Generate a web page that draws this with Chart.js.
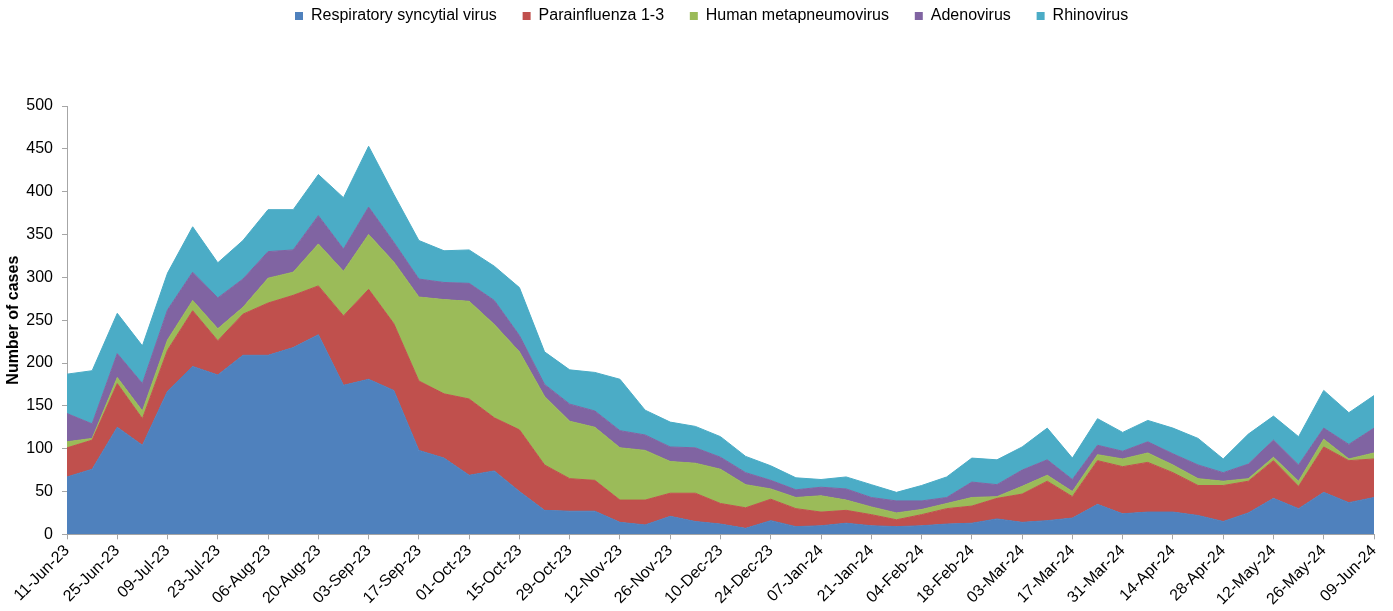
<!DOCTYPE html>
<html>
<head>
<meta charset="utf-8">
<script src="https://cdn.jsdelivr.net/npm/chart.js@4"></script>
<style>
  body { margin: 0; background: #fff; }
  #wrap { width: 1393px; height: 611px; }
</style>
</head>
<body>
<div id="wrap"><canvas id="virusChart" width="1393" height="611"></canvas></div>
<script>
const weeks = [
  '11-Jun-23', '18-Jun-23', '25-Jun-23', '02-Jul-23', '09-Jul-23', '16-Jul-23', '23-Jul-23', '30-Jul-23',
  '06-Aug-23', '13-Aug-23', '20-Aug-23', '27-Aug-23', '03-Sep-23', '10-Sep-23', '17-Sep-23', '24-Sep-23',
  '01-Oct-23', '08-Oct-23', '15-Oct-23', '22-Oct-23', '29-Oct-23', '05-Nov-23', '12-Nov-23', '19-Nov-23',
  '26-Nov-23', '03-Dec-23', '10-Dec-23', '17-Dec-23', '24-Dec-23', '31-Dec-23', '07-Jan-24', '14-Jan-24',
  '21-Jan-24', '28-Jan-24', '04-Feb-24', '11-Feb-24', '18-Feb-24', '25-Feb-24', '03-Mar-24', '10-Mar-24',
  '17-Mar-24', '24-Mar-24', '31-Mar-24', '07-Apr-24', '14-Apr-24', '21-Apr-24', '28-Apr-24', '05-May-24',
  '12-May-24', '19-May-24', '26-May-24', '02-Jun-24', '09-Jun-24'
];

const rsv = [67, 76, 125, 104, 167, 196, 186, 209, 209, 218, 233, 174, 181, 168, 98, 89, 69, 74, 50, 28,
  27, 27, 14, 11, 21, 15, 12, 7, 16, 9, 10, 13, 10, 9, 10, 12, 13, 18, 14, 16,
  19, 35, 24, 26, 26, 22, 15, 25, 42, 30, 49, 37, 43];
const parainfluenza = [34, 34, 51, 31, 48, 65, 40, 48, 61, 61, 57, 81, 105, 78, 81, 75, 89, 62, 72, 53,
  38, 36, 26, 29, 27, 33, 24, 24, 25, 21, 16, 15, 13, 8, 13, 18, 20, 24, 33, 46,
  25, 51, 55, 58, 46, 35, 42, 37, 44, 26, 53, 49, 45];
const metapneumo = [7, 2, 7, 9, 12, 12, 14, 8, 29, 27, 49, 52, 64, 72, 98, 110, 114, 109, 91, 80,
  67, 62, 61, 58, 37, 35, 40, 27, 12, 13, 19, 12, 9, 8, 6, 6, 10, 2, 9, 7,
  6, 7, 9, 11, 9, 8, 5, 3, 4, 6, 9, 2, 7];
const adeno = [33, 17, 28, 32, 35, 33, 36, 33, 31, 26, 33, 26, 32, 23, 21, 20, 21, 28, 19, 14,
  20, 19, 20, 18, 17, 18, 14, 14, 10, 9, 10, 13, 11, 14, 10, 7, 18, 14, 19, 18,
  14, 11, 9, 13, 13, 16, 10, 17, 20, 19, 13, 17, 29];
const rhino = [46, 62, 47, 44, 43, 53, 41, 45, 49, 47, 48, 60, 71, 56, 45, 37, 39, 40, 56, 38,
  40, 45, 60, 29, 29, 25, 24, 19, 17, 14, 9, 14, 15, 10, 18, 24, 28, 29, 27, 37,
  25, 31, 22, 25, 30, 31, 16, 35, 28, 33, 44, 37, 38];

const seriesNames = ['Respiratory syncytial virus', 'Parainfluenza 1-3', 'Human metapneumovirus', 'Adenovirus', 'Rhinovirus'];
const seriesColors = ['#4F81BD', '#C0504D', '#9BBB59', '#8064A2', '#4BACC6'];
const seriesData = [rsv, parainfluenza, metapneumo, adeno, rhino];

Chart.defaults.font.family = '"Liberation Sans", Arial, sans-serif';
Chart.defaults.font.size = 16;
Chart.defaults.color = '#000';

// push the plot down below the legend
const legendGap = {
  id: 'legendGap',
  beforeInit(chart) {
    const fit = chart.legend.fit;
    chart.legend.fit = function () {
      fit.bind(chart.legend)();
      this.height += 72;
    };
  }
};

const ctx = document.getElementById('virusChart').getContext('2d');
new Chart(ctx, {
  type: 'line',
  data: {
    labels: weeks,
    datasets: seriesNames.map((name, i) => ({
      label: name,
      data: seriesData[i],
      backgroundColor: seriesColors[i],
      borderColor: seriesColors[i],
      borderWidth: 1,
      pointRadius: 0,
      tension: 0,
      fill: i === 0 ? 'origin' : '-1'
    }))
  },
  options: {
    responsive: false,
    animation: false,
    layout: { padding: { right: 19, top: 0, bottom: 0 } },
    plugins: {
      tooltip: { enabled: false },
      legend: {
        position: 'top',
        fullSize: false,
        labels: {
          boxWidth: 8,
          boxHeight: 8,
          padding: 8,
          font: { size: 16 },
          generateLabels(chart) {
            return chart.data.datasets.map((ds, i) => ({
              text: ds.label + '    ',
              fillStyle: ds.backgroundColor,
              strokeStyle: ds.backgroundColor,
              lineWidth: 0,
              datasetIndex: i,
              hidden: false
            }));
          }
        }
      }
    },
    scales: {
      x: {
        offset: false,
        grid: { drawOnChartArea: false, drawTicks: true, tickLength: 5, color: '#A6A6A6' },
        border: { color: '#A6A6A6' },
        ticks: {
          autoSkip: false,
          maxRotation: 45,
          minRotation: 45,
          padding: 2,
          font: { size: 16 },
          callback(value, index) {
            return index % 2 === 0 ? weeks[index] : null;
          }
        }
      },
      y: {
        stacked: true,
        min: 0,
        max: 500,
        afterFit(scale) { scale.width = 67; },
        grid: { drawOnChartArea: false, drawTicks: true, tickLength: 5, color: '#A6A6A6' },
        border: { color: '#A6A6A6' },
        ticks: { stepSize: 50, padding: 9, font: { size: 16 } },
        title: {
          display: true,
          text: 'Number of cases',
          font: { size: 16, weight: 'bold' },
          padding: { top: 4, bottom: 0 }
        }
      }
    }
  },
  plugins: [legendGap]
});
</script>
</body>
</html>
